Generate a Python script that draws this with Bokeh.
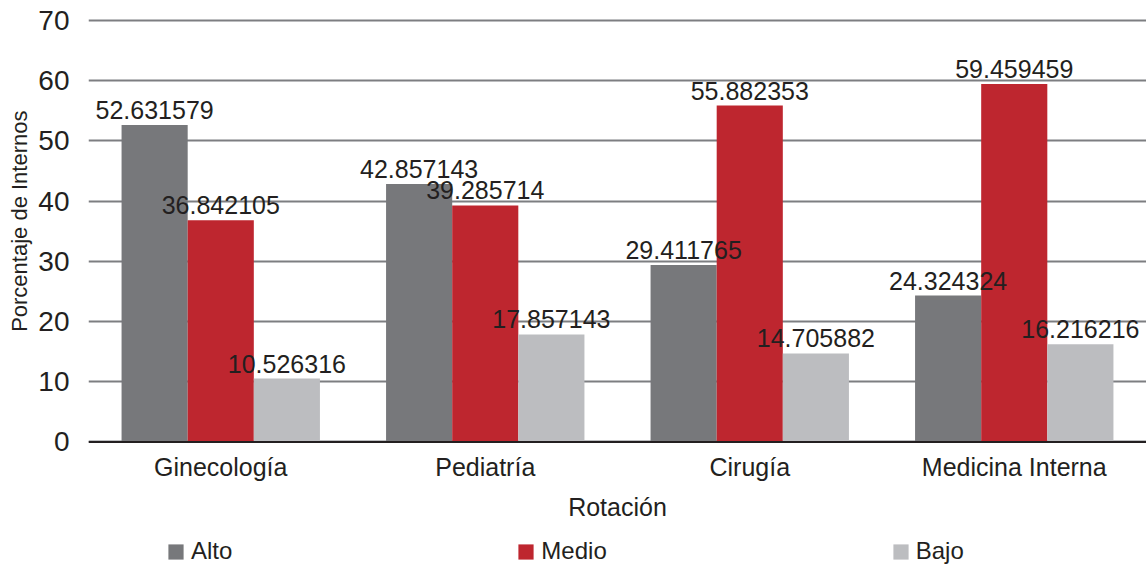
from bokeh.plotting import figure
from bokeh.models import (ColumnDataSource, FactorRange, Range1d, Legend, LegendItem,
                          FixedTicker, Span, Title)
from bokeh.transform import dodge
from bokeh.embed import file_html
from bokeh.resources import INLINE
from bokeh.core.properties import value

categories = ["Ginecología", "Pediatría", "Cirugía", "Medicina Interna"]
alto = [52.631579, 42.857143, 29.411765, 24.324324]
medio = [36.842105, 39.285714, 55.882353, 59.459459]
bajo = [10.526316, 17.857143, 14.705882, 16.216216]
series_names = ["Alto", "Medio", "Bajo"]
colors = ["#77787b", "#be262f", "#bcbdc0"]
y_ticks = [0, 10, 20, 30, 40, 50, 60, 70]
x_title = "Rotación"
y_title = "Porcentaje de Internos"

FONT = "Liberation Sans"
TXT = "#231f20"

# layout (pixels)
W, H = 1146, 566
TOP = 18            # frame top
PX_PER_UNIT = 6.021 # vertical scale
y_end = 70 + 2 / PX_PER_UNIT
y_start = y_end - (H - TOP) / PX_PER_UNIT

series = {"Alto": alto, "Medio": medio, "Bajo": bajo}
data = dict(cat=categories, zero=[0] * len(categories))
for n in series_names:
    data[n] = series[n]
    data["lab_" + n] = ["%.6f" % v for v in series[n]]
src = ColumnDataSource(data)

p = figure(x_range=FactorRange(*categories, range_padding=0),
           y_range=Range1d(start=y_start, end=y_end),
           width=W, height=H, output_backend="svg", toolbar_location=None,
           min_border_left=88, min_border_right=0, min_border_top=TOP, min_border_bottom=0)
p.outline_line_color = None
p.background_fill_color = "white"

p.xgrid.grid_line_color = None
p.ygrid.ticker = FixedTicker(ticks=y_ticks)
p.ygrid.grid_line_color = "#7d7e81"
p.ygrid.grid_line_width = 2

offsets = [-0.25, 0.0, 0.25]
renderers = []
for n, c, off in zip(series_names, colors, offsets):
    r = p.vbar(x=dodge("cat", off, range=p.x_range), top=n, bottom=0, width=0.25, source=src,
               fill_color=c, line_color=None)
    renderers.append(r)

for n, off in zip(series_names, offsets):
    p.text(x=dodge("cat", off, range=p.x_range), y=n, text="lab_" + n, source=src,
           text_align="center", text_baseline="alphabetic", y_offset=-15,
           text_font=value(FONT), text_font_size="25px", text_color=TXT)

# category axis (drawn at y = 0)
p.add_layout(Span(location=0, dimension="width", line_color=TXT, line_width=2))
p.text(x="cat", y="zero", text="cat", source=src, text_align="center",
       text_baseline="alphabetic", y_offset=25,
       text_font=value(FONT), text_font_size="25px", text_color=TXT)
mid = len(categories) // 2 - 1
title_src = ColumnDataSource(dict(x=[categories[mid]], y=[0], t=[x_title]))
p.text(x=dodge("x", 0.5, range=p.x_range), y="y", text="t", source=title_src,
       text_align="center", text_baseline="alphabetic", y_offset=65,
       text_font=value(FONT), text_font_size="25px", text_color=TXT)
p.xaxis.visible = False

p.yaxis.ticker = FixedTicker(ticks=y_ticks)
p.yaxis.axis_line_color = None
p.yaxis.major_tick_line_color = None
p.yaxis.minor_tick_line_color = None
p.yaxis.major_label_text_font = FONT
p.yaxis.major_label_text_font_size = "28px"
p.yaxis.major_label_text_color = TXT
p.yaxis.major_label_standoff = 13
p.yaxis.axis_label = None

yt = Title(text=y_title, align="right", offset=92, standoff=8,
           text_font=FONT, text_font_size="22px", text_font_style="normal",
           text_color=TXT)
p.add_layout(yt, "left")

items = [LegendItem(label=n, renderers=[r]) for n, r in zip(series_names, renderers)]
legend = Legend(items=items, orientation="horizontal", location=(78, 1),
                glyph_width=19, glyph_height=19, label_standoff=6, label_width=10,
                spacing=284, padding=0, margin=0, border_line_color=None,
                background_fill_alpha=0,
                label_text_font=FONT, label_text_font_size="24px", label_text_color=TXT)
p.add_layout(legend)

open("out.html", "w").write(file_html(p, INLINE))
